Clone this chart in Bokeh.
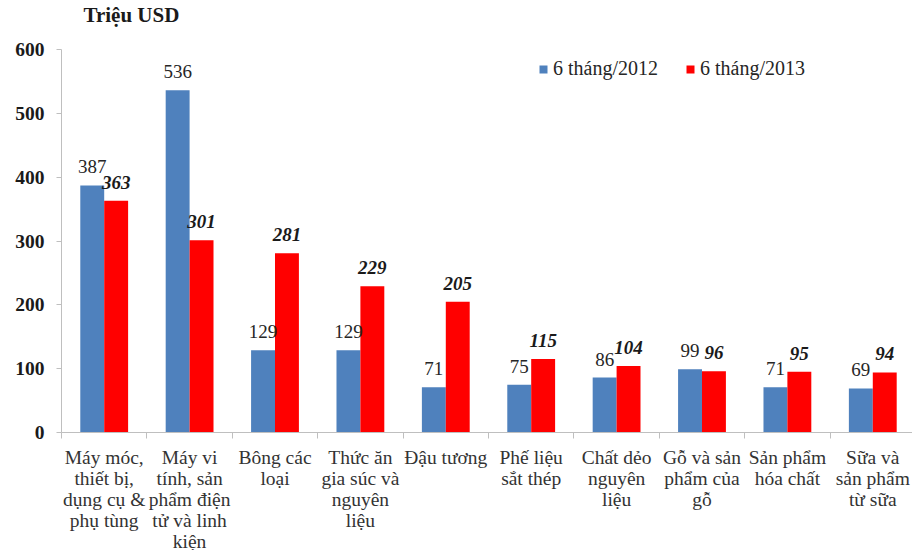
from bokeh.plotting import figure
from bokeh.models import (ColumnDataSource, Range1d, FixedTicker, Legend, LegendItem)
from bokeh.core.properties import value
from bokeh.embed import file_html
from bokeh.resources import INLINE

# Import values (million USD), first six months of each year
categories = [
    "Máy móc,\nthiết bị,\ndụng cụ &\nphụ tùng",
    "Máy vi\ntính, sản\nphẩm điện\ntử và linh\nkiện",
    "Bông các\nloại",
    "Thức ăn\ngia súc và\nnguyên\nliệu",
    "Đậu tương",
    "Phế liệu\nsắt thép",
    "Chất dẻo\nnguyên\nliệu",
    "Gỗ và sản\nphẩm của\ngỗ",
    "Sản phẩm\nhóa chất",
    "Sữa và\nsản phẩm\ntừ sữa",
]
values_2012 = [387, 536, 129, 129, 71, 75, 86, 99, 71, 69]
values_2013 = [363, 301, 281, 229, 205, 115, 104, 96, 95, 94]
y_ticks = [0, 100, 200, 300, 400, 500, 600]
series_names = ["6 tháng/2012", "6 tháng/2013"]

FONT = "Liberation Serif"
BLUE = "#4F81BD"
RED = "#FF0000"
BAR_W = 0.28

n = len(categories)
centers = [i + 0.5 for i in range(n)]
src12 = ColumnDataSource(dict(x=[c - BAR_W / 2 for c in centers], top=values_2012,
                              lbl=[str(v) for v in values_2012]))
src13 = ColumnDataSource(dict(x=[c + BAR_W / 2 for c in centers], top=values_2013,
                              lbl=[str(v) for v in values_2013]))

p = figure(width=912, height=554, output_backend="svg", toolbar_location=None,
           x_range=Range1d(0, 9.965), y_range=Range1d(0, 600),
           min_border_left=61, min_border_right=0, min_border_top=48,
           min_border_bottom=118)
p.outline_line_color = None
p.xgrid.visible = False
p.ygrid.visible = False
p.background_fill_color = "white"
p.border_fill_color = "white"

r12 = p.vbar(x="x", top="top", width=BAR_W, source=src12, fill_color=BLUE, line_color=None)
r13 = p.vbar(x="x", top="top", width=BAR_W, source=src13, fill_color=RED, line_color=None)

p.text(x="x", y="top", text="lbl", source=src12, text_font=value(FONT),
       text_font_size="19px", text_color="#262626", text_align="center",
       text_baseline="bottom", y_offset=-12)
p.text(x="x", y="top", text="lbl", source=src13, text_font=value(FONT),
       text_font_size="19px", text_font_style="bold italic", text_color="#1a1a1a",
       text_align="center", text_baseline="bottom", y_offset=-12)

# y axis
p.yaxis.ticker = FixedTicker(ticks=y_ticks)
p.yaxis.axis_line_color = "#BFBFBF"
p.yaxis.major_tick_line_color = "#BFBFBF"
p.yaxis.major_tick_out = 5
p.yaxis.major_tick_in = 0
p.yaxis.minor_tick_line_color = None
p.yaxis.major_label_text_font = FONT
p.yaxis.major_label_text_font_size = "19.5px"
p.yaxis.major_label_text_font_style = "bold"
p.yaxis.major_label_text_color = "#1a1a1a"
p.yaxis.major_label_standoff = 12

# x axis: labels at category centres, tick marks at category boundaries
p.xaxis.ticker = FixedTicker(ticks=centers, minor_ticks=list(range(n + 1)))
p.xaxis.major_label_overrides = {c: lbl for c, lbl in zip(centers, categories)}
p.xaxis.axis_line_color = "#BFBFBF"
p.xaxis.major_tick_line_color = None
p.xaxis.minor_tick_line_color = "#BFBFBF"
p.xaxis.minor_tick_out = 6
p.xaxis.minor_tick_in = 0
p.xaxis.major_label_text_font = FONT
p.xaxis.major_label_text_font_size = "19.5px"
p.xaxis.major_label_text_line_height = 1.0
p.xaxis.major_label_text_color = "#333333"
p.xaxis.major_label_standoff = 8

# unit caption above the value axis; the empty second line lifts it up
p.title.text = "Triệu USD\n "
p.title.text_font = FONT
p.title.text_font_size = "21px"
p.title.text_font_style = "bold"
p.title.text_color = "#1a1a1a"
p.title.text_line_height = 0.95
p.title.offset = 22
p.title.standoff = 0

legend = Legend(items=[LegendItem(label=series_names[0], renderers=[r12]),
                       LegendItem(label=series_names[1], renderers=[r13])],
                orientation="horizontal", location=(477, 352))
legend.glyph_width = 10
legend.glyph_height = 10
legend.label_text_font = FONT
legend.label_text_font_size = "20px"
legend.label_text_color = "#262626"
legend.label_standoff = 5
legend.spacing = 27
legend.padding = 0
legend.margin = 0
legend.border_line_color = None
legend.background_fill_alpha = 0
p.add_layout(legend)

open("out.html", "w").write(file_html(p, INLINE))
